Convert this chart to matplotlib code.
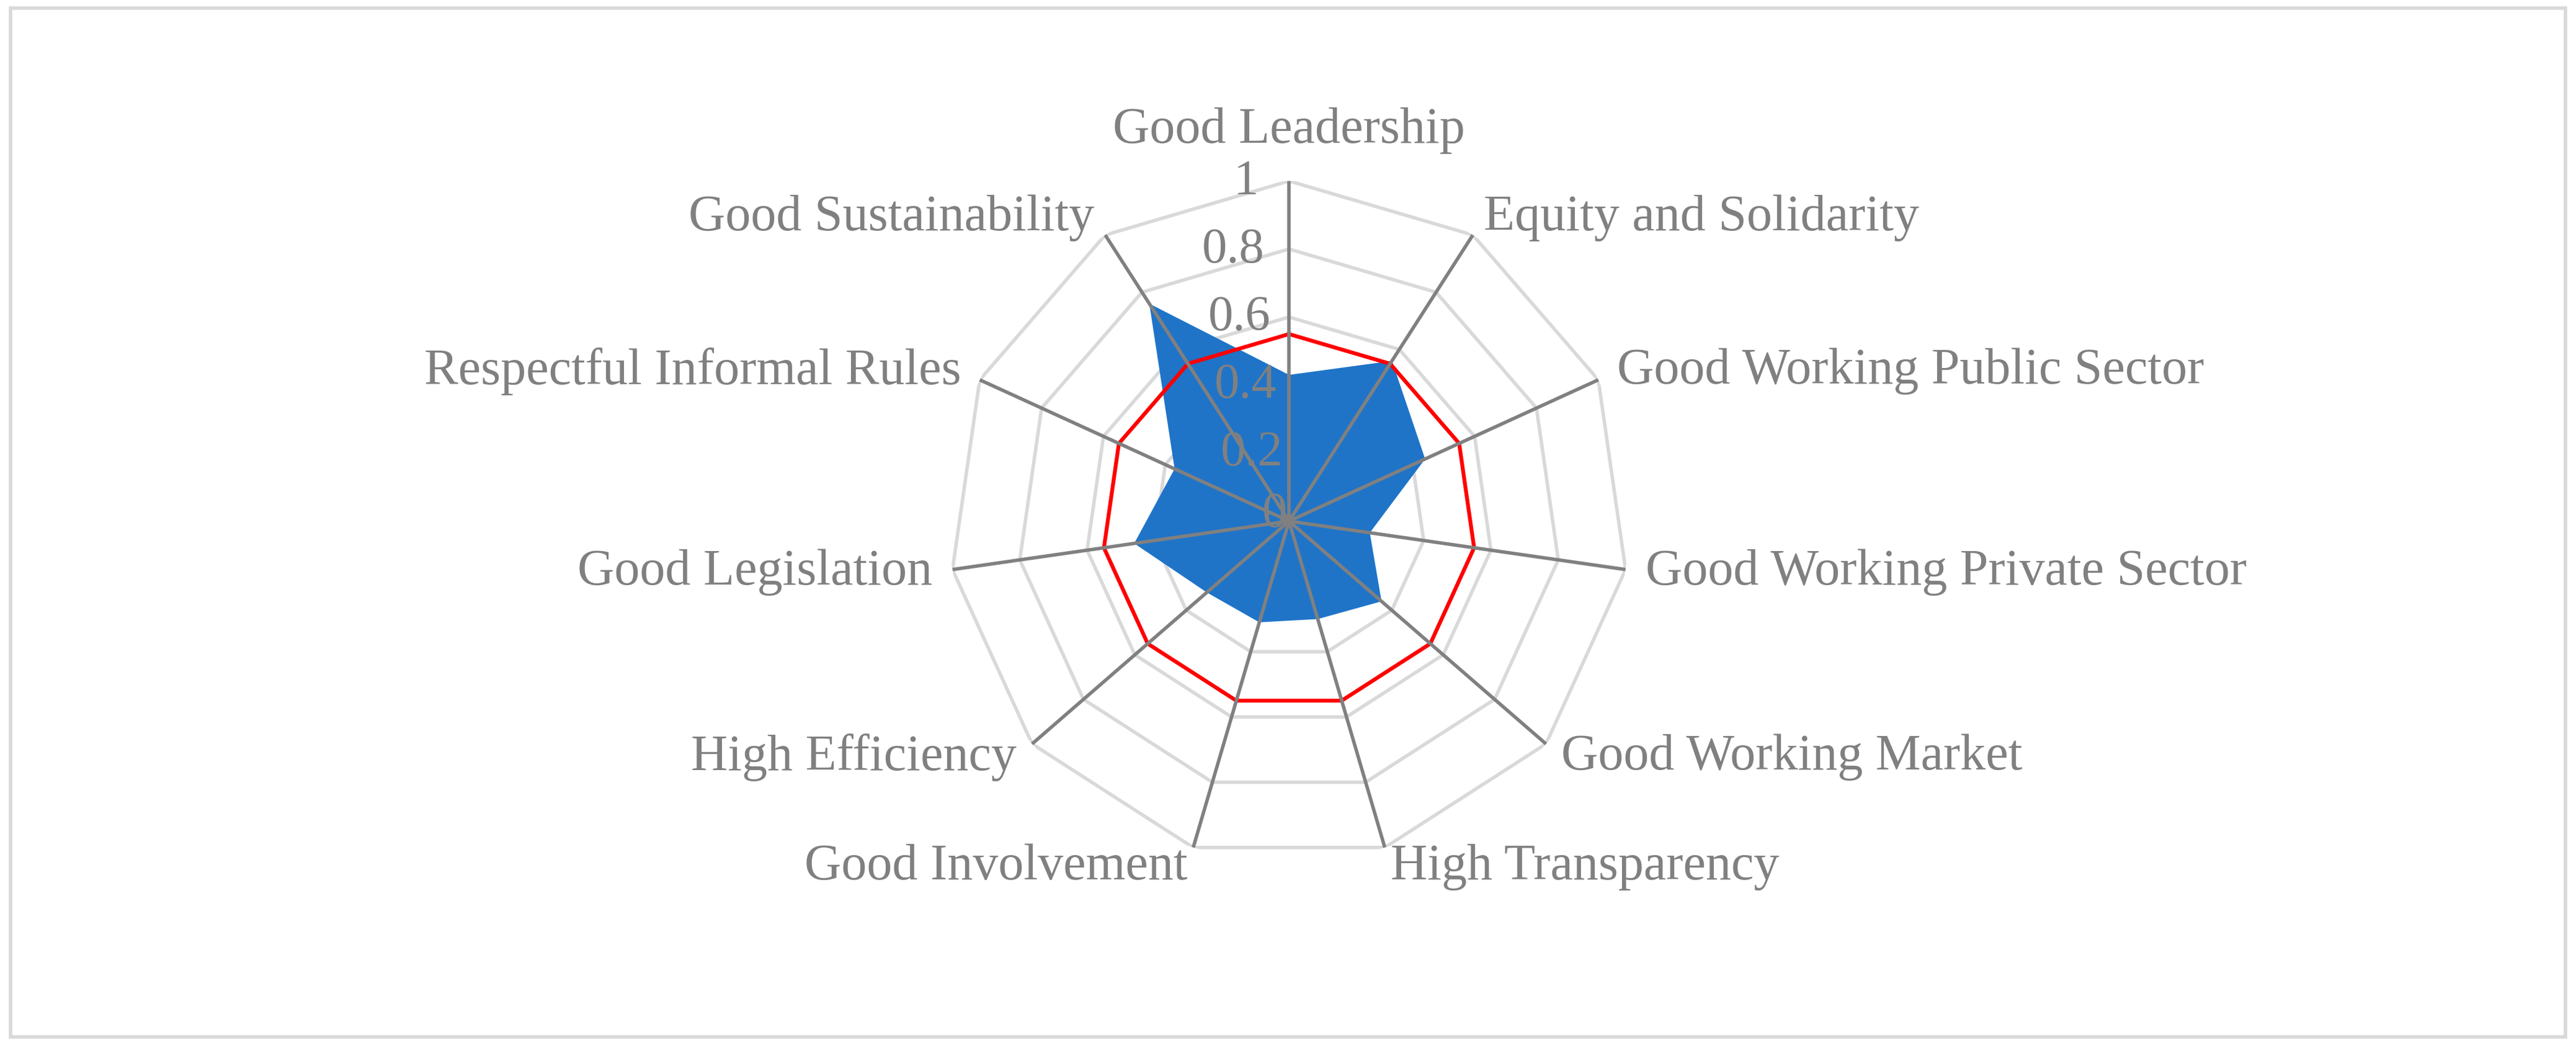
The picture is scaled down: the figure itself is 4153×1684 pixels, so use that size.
import numpy as np
import matplotlib
matplotlib.use("Agg")
import matplotlib.pyplot as plt
from matplotlib.patches import Rectangle

categories = ["Good Leadership", "Equity and Solidarity", "Good Working Public Sector",
              "Good Working Private Sector", "Good Working Market", "High Transparency",
              "Good Involvement", "High Efficiency", "Good Legislation",
              "Respectful Informal Rules", "Good Sustainability"]
actual = [0.43, 0.56, 0.44, 0.24, 0.36, 0.30, 0.31, 0.32, 0.46, 0.37, 0.76]
threshold = [0.55] * 11
ticks = [0, 0.2, 0.4, 0.6, 0.8, 1]
tick_labels = ["0", "0.2", "0.4", "0.6", "0.8", "1"]

plt.rcParams['font.family'] = ['Liberation Serif', 'DejaVu Serif']
fig = plt.figure(figsize=(41.53, 16.84), dpi=100)
fig.patches.append(Rectangle((0.004, 0.008), 0.992, 0.984, transform=fig.transFigure,
                             fill=False, edgecolor='#d9d9d9', linewidth=4))
ax = fig.add_axes([0.3684, 0.1758, 0.264, 0.651], projection='polar')
ax.set_theta_zero_location('N')
ax.set_theta_direction(-1)
n = len(categories)
ang = np.linspace(0, 2*np.pi, n, endpoint=False)
angc = np.append(ang, ang[0])
ax.set_ylim(0, 1)
ax.grid(False)
ax.spines['polar'].set_visible(False)
ax.set_xticks([]); ax.set_yticks([])
ax.patch.set_alpha(0)

for t in ticks[1:]:
    ax.plot(angc, [t]*(n+1), color='#d9d9d9', lw=4, zorder=1)
for a in ang:
    ax.plot([a, a], [0, 1], color='#808080', lw=4, zorder=4)

vals = np.append(actual, actual[0])
ax.fill(angc, vals, color='#1f74c8', zorder=2, lw=0)
thr = np.append(threshold, threshold[0])
ax.plot(angc, thr, color='#ff0000', lw=4.5, zorder=3)

for t, lab in zip(ticks, tick_labels):
    ax.text(-0.09 if t > 0 else -0.3, t if t > 0 else 0.02, lab, ha='right', va='center',
            fontsize=58, color='#808080', zorder=5)

for a, c in zip(ang, categories):
    s, co = np.sin(a), np.cos(a)
    if abs(s) < 0.05:
        ha = 'center'
    elif s > 0:
        ha = 'left'
    else:
        ha = 'right'
    va = 'bottom' if co > 0.95 else 'center'
    r = 1.06 if ha != 'center' else 1.08
    ax.text(a, r, c, ha=ha, va=va, fontsize=59, color='#808080')

fig.savefig("out.png", dpi=100)
